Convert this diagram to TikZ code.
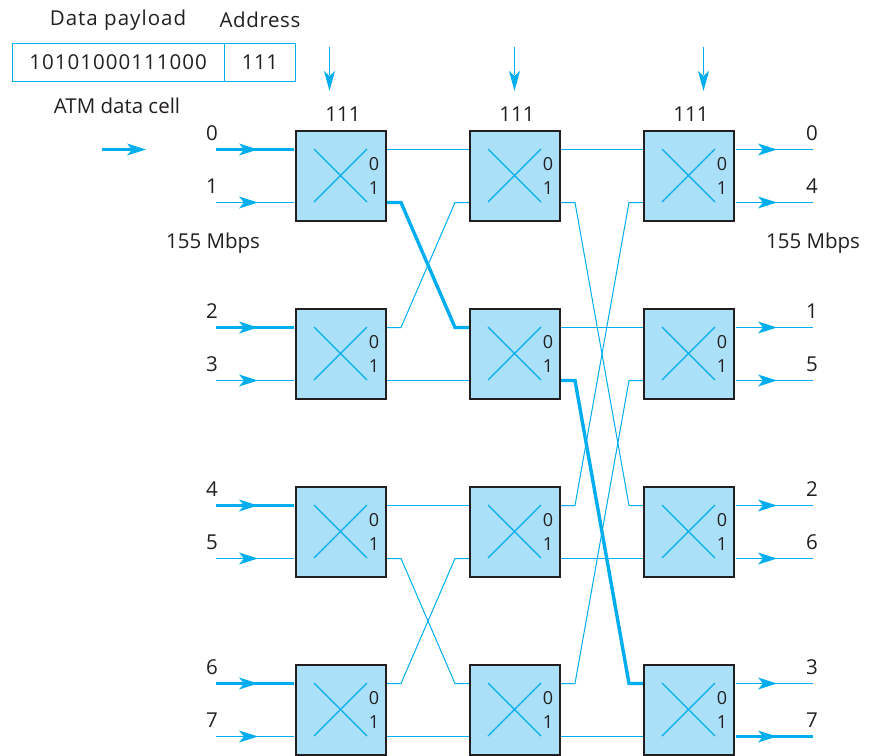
\documentclass[tikz,border=0pt]{standalone}
\usepackage{fontspec}
\setmainfont{Open Sans}
\newfontfamily\widefam[LetterSpace=5]{Open Sans}
\newfontfamily\semifam[LetterSpace=3]{Open Sans}
\usetikzlibrary{arrows.meta}
\definecolor{cy}{HTML}{00AEEF}
\definecolor{boxfill}{HTML}{ABE0F9}
\definecolor{ink}{HTML}{231F20}
\tikzset{
 sw/.style={draw=ink,fill=boxfill,line width=2.8pt,minimum width=90pt,minimum height=90pt,inner sep=0pt,outer sep=0pt},
 lbl/.style={text=ink,font=\fontsize{20.5}{22}\selectfont,inner sep=0pt},
 port/.style={text=ink,font=\fontsize{18}{20}\selectfont,inner sep=0pt},
 wire/.style={draw=cy,line width=1pt},
 downwire/.style={draw=cy,line width=1.2pt},
 bold/.style={draw=cy,line width=3.4pt},
 med/.style={draw=cy,line width=2.4pt},
 cell/.style={draw=cy,line width=1pt,minimum height=38pt,inner sep=0pt,outer sep=0pt,text=ink,font=\fontsize{20.5}{22}\selectfont},
}
\newcommand{\arrowat}[2]{\fill[cy] (#1-14,#2) -- (#1-19,#2-6) -- (#1,#2) -- (#1-19,#2+6) -- cycle;}
\begin{document}
\begin{tikzpicture}[x=1pt,y=-1pt]
\useasboundingbox (0,0) rectangle (869,755);
% cell
\node[cell,minimum width=212pt] (payload) at (118,62) {\widefam 10101000111000};
\node[cell,minimum width=71pt] (addr) at (260,62) {\semifam 111};
\node[lbl] (t1) at (118,20) {\widefam Data payload};
\node[lbl] (t2) at (260,20) {\semifam Address};
\node[lbl] (t3) at (117,106) {ATM data cell};
\node[lbl] (r1) at (213,243) {155 Mbps};
\node[lbl] (r2) at (813,243) {155 Mbps};
\begin{scope}[yshift=-0.5pt]
\coordinate (leg1) at (102,149); \coordinate (leg2) at (135,149);
\draw[bold] (leg1) -- (leg2); \arrowat{146}{149}
% stage 1-2
\foreach \y in {149,380,505,736}{ \draw[wire] (387,\y) -- (469,\y); }
\draw[wire] (387,327) -- (401,327) -- (455,202) -- (469,202);
\draw[wire] (387,558) -- (401,558) -- (455,683) -- (469,683);
\draw[wire] (387,683) -- (401,683) -- (455,558) -- (469,558);
% stage 2-3
\foreach \y in {149,327,558,736}{ \draw[wire] (561,\y) -- (643,\y); }
\draw[wire] (561,202) -- (575,202) -- (629,505) -- (643,505);
\draw[wire] (561,505) -- (575,505) -- (629,202) -- (643,202);
\draw[wire] (561,683) -- (575,683) -- (629,380) -- (643,380);
% bold route
\draw[bold,line join=miter] (387,202) -- (401,202) -- (455,327) -- (469,327);
\draw[bold,line join=miter] (561,380) -- (575,380) -- (629,683) -- (643,683);
\end{scope}
% boxes
\foreach \c/\x/\ax in {1/341/329.5,2/515/514.5,3/689/703.5}{
 \foreach \r/\y in {1/176,2/354,3/532,4/710}{
  \node[sw] (b\c\r) at (\x,\y) {};
  \draw[cy,line width=1.2pt] (\x-27,\y-27) -- (\x+26,\y+26) (\x-27,\y+26) -- (\x+26,\y-27);
  \node[port] at (\x+33,\y-12) {0};
  \node[port] at (\x+33,\y+12) {1};
 }
 \node[lbl] at (\x+2,114) {111};
 \coordinate (d\c) at (\ax,47);
 \draw[downwire] (d\c) -- (\ax,75);
 \fill[cy] (\ax,91) -- (\ax-5.5,71) -- (\ax,76) -- (\ax+5.5,71) -- cycle;
}
% inputs
\begin{scope}[yshift=-0.5pt]
\foreach \n/\y/\st in {0/149/bold,1/202/wire,2/327/med,3/380/wire,4/505/med,5/558/wire,6/683/med,7/736/wire}{
 \node[lbl] at (212,\y-16) {\n};
 \draw[\st] (216,\y) -- (294,\y);
 \arrowat{258}{\y}
}
% outputs
\foreach \n/\y/\st in {0/149/wire,4/202/wire,1/327/wire,5/380/wire,2/505/wire,6/558/wire,3/683/wire,7/736/bold}{
 \node[lbl] at (812,\y-16) {\n};
 \draw[\st] (736,\y) -- (813,\y);
 \arrowat{777}{\y}
}
\end{scope}
\end{tikzpicture}
\end{document}
